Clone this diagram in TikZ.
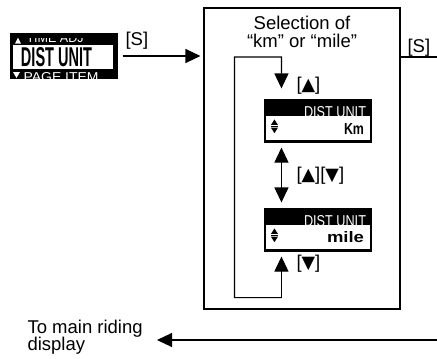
\documentclass[tikz,border=0pt]{standalone}
\usepackage{fontspec}
\setmainfont{Liberation Sans}
\newfontfamily\symf{DejaVu Sans}
\usetikzlibrary{arrows.meta,calc}
\newcommand{\tup}{{\symf\raisebox{0.3bp}{\scalebox{0.95}{▲}}}}
\newcommand{\tdn}{{\symf\raisebox{0.3bp}{\scalebox{0.95}{▼}}}}
\begin{document}
\begin{tikzpicture}[x=1bp,y=-1bp,line width=1.1bp,
  arr/.style={-{Triangle[length=15bp,width=14bp]}},
  biarr/.style={{Triangle[length=15bp,width=14bp]}-{Triangle[length=15bp,width=14bp]}},
  lbl/.style={font=\fontsize{18.5bp}{17.5bp}\selectfont,inner sep=0pt},
  lcdbox/.style={fill=black,draw=none,inner sep=0pt,minimum width=108bp,minimum height=44bp},
  frame/.style={draw=black,fill=none,inner sep=0pt,minimum width=196bp,minimum height=301bp},
  lcdtext/.style={inner sep=0pt,white}]
\useasboundingbox (0,0) rectangle (437,358);

% ---- left display ----
\node[lcdbox,minimum height=46bp] (d0) at (64,56) {};
\fill[white] (13,45) rectangle (113,69);
\node[inner sep=0pt] (d0t) at (56.5,57.5) {\resizebox{71bp}{19bp}{\bfseries DIST UNIT}};
\begin{scope}
  \clip (10,38.5) rectangle (118,44);
  \fill[white] (15,43.5) -- (21,43.5) -- (18,37.5) -- cycle;
  \node[lcdtext,anchor=south west] (d0a) at (26,43.5) {\resizebox{57bp}{9bp}{TIME ADJ}};
\end{scope}
\begin{scope}
  \clip (10,71) rectangle (118,79);
  \fill[white] (13,72) -- (20,72) -- (16.5,78) -- cycle;
  \node[lcdtext,anchor=north west] (d0b) at (23,72) {\resizebox{75bp}{9bp}{PAGE ITEM}};
\end{scope}

% ---- frame ----
\node[frame] (box) at (302,158.5) {};
\node[lbl,align=center] (title) at (302,32) {Selection of\\“km” or “mile”};

% ---- km / mile displays ----
\node[lcdbox] (km) at (318,121) {};
\node[lcdbox] (mile) at (318,230) {};
\foreach \d/\u/\w in {km/Km/20,mile/mile/37}{
  \fill[white] ([shift={(2.7,18)}]\d.north west) rectangle ([shift={(-2.7,-3.5)}]\d.south east);
  \node[lcdtext,anchor=north east] (\d h) at ([shift={(-6,7)}]\d.north east) {\resizebox{62bp}{11bp}{DIST UNIT}};
  \node[inner sep=0pt,anchor=south east] (\d u) at ([shift={(-8,-9)}]\d.south east) {\resizebox{\w bp}{11bp}{\bfseries \u}};
  \fill ([shift={(7.5,26.5)}]\d.north west) -- ++(7,0) -- ++(-3.5,-5.5) -- cycle;
  \fill ([shift={(7.5,27.4)}]\d.north west) rectangle ++(7,0.8);
  \fill ([shift={(7.5,29.2)}]\d.north west) -- ++(7,0) -- ++(-3.5,5.5) -- cycle;
}

% ---- connectors ----
\coordinate (lp) at ([shift={(18,45)}]mile.south west);
\draw[arr] (lp) -- ([shift={(18,4)}]mile.south west);
\draw[arr] (lp) -| ([xshift=-29bp]km.west |- 0,57) -- ([xshift=18bp]km.west |- 0,57) -- ([shift={(18,-10)}]km.north west);
\draw[biarr] ([shift={(18,4)}]km.south west) -- ([shift={(18,-5)}]mile.north west);

\node[lbl,anchor=west] (l1) at (296,86) {[\tup]};
\node[lbl,anchor=west] (l2) at (296,176) {[\tup][\tdn]};
\node[lbl,anchor=west] (l3) at (296,264) {[\tdn]};

\draw[arr] ([xshift=4bp]d0.east) -- ([xshift=-3bp]box.west |- d0.east);
\node[lbl,anchor=west] (s1) at (125,41) {[S]};

\coordinate (re) at (437,57);
\draw (box.east |- re) -- (re);
\node[lbl,anchor=west] (s2) at (407,48) {[S]};

\node[lbl,align=left,anchor=west] (tm) at (27,337) {To main riding\\display};
\coordinate (rb) at (437,340);
\draw[arr] (rb) -- (157,340);
\end{tikzpicture}
\end{document}
